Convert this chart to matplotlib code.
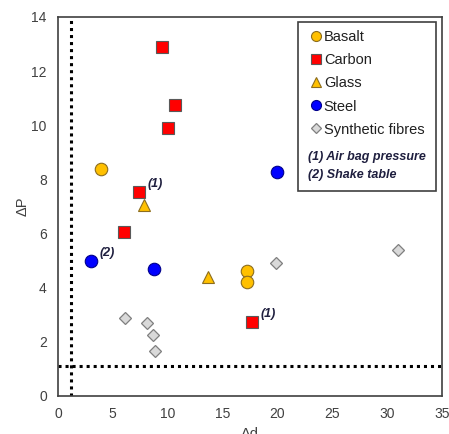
import matplotlib.pyplot as plt
from matplotlib.patches import Rectangle

plt.rcParams['font.family'] = ['Liberation Sans', 'DejaVu Sans']

# data (delta d, delta P)
basalt_x = [3.9, 17.2, 17.2]
basalt_y = [8.4, 4.62, 4.2]
carbon_x = [9.5, 10.7, 10.0, 7.4, 6.0, 17.7]
carbon_y = [12.9, 10.75, 9.9, 7.55, 6.05, 2.75]
glass_x = [7.85, 13.7]
glass_y = [7.05, 4.4]
steel_x = [3.0, 8.8, 20.0]
steel_y = [5.0, 4.7, 8.27]
synth_x = [6.1, 8.1, 8.7, 8.85, 19.9, 31.0]
synth_y = [2.88, 2.69, 2.25, 1.65, 4.9, 5.4]

# notes next to points
note_x = [7.4, 3.0, 17.7]
note_y = [7.55, 5.0, 2.75]
note_txt = ['(1)', '(2)', '(1)']

limit_x = 1.2
limit_y = 1.1

fig = plt.figure(figsize=(4.49, 4.34), dpi=100)
ax = fig.add_axes([0.129, 0.0876, 0.855, 0.8733])

ax.axvline(limit_x, color='black', ls=(0, (1, 1.3)), lw=2.2, zorder=1)
ax.axhline(limit_y, color='black', ls=(0, (1, 1.3)), lw=2.2, zorder=1)

h_b, = ax.plot(basalt_x, basalt_y, 'o', ms=9, mfc='#FFC000', mec='#8C6D1F', mew=0.8, ls='none', label='Basalt')
h_c, = ax.plot(carbon_x, carbon_y, 's', ms=8.5, mfc='#FF0000', mec='#595959', mew=0.8, ls='none', label='Carbon')
h_g, = ax.plot(glass_x, glass_y, '^', ms=9, mfc='#FFC000', mec='#8C6D1F', mew=0.8, ls='none', label='Glass')
h_s, = ax.plot(steel_x, steel_y, 'o', ms=9, mfc='#0000FF', mec='#00008B', mew=0.8, ls='none', label='Steel')
h_f, = ax.plot(synth_x, synth_y, 'D', ms=6.5, mfc='#D9D9D9', mec='#7F7F7F', mew=0.9, ls='none', label='Synthetic fibres')

for x, y, t in zip(note_x, note_y, note_txt):
    ax.annotate(t, (x, y), xytext=(6, 3), textcoords='offset points',
                fontsize=9, fontweight='bold', fontstyle='italic', color='#1F1F3F')

ax.set_xlim(0, 35)
ax.set_ylim(0, 14)
ax.set_xticks(range(0, 36, 5))
ax.set_yticks(range(0, 15, 2))
ax.tick_params(length=0, labelsize=10, labelcolor='#404040', pad=8)
for s in ax.spines.values():
    s.set_color('#404040')
    s.set_linewidth(1.2)
ax.set_xlabel('Δd', fontsize=10.5, color='#404040', labelpad=4)
ax.set_ylabel('ΔP', fontsize=10.5, color='#404040', labelpad=1)

# legend box with notes
ax.add_patch(Rectangle((0.625, 0.541), 0.359, 0.446, transform=ax.transAxes,
                       fc='white', ec='#404040', lw=1.2, zorder=3))
leg = ax.legend(handles=[h_b, h_c, h_g, h_s, h_f], loc='upper left',
                bbox_to_anchor=(0.645, 0.98), frameon=False, fontsize=10.5,
                handlelength=0.6, handletextpad=0.25, labelspacing=0.62,
                borderaxespad=0, markerscale=0.8)
leg.set_zorder(4)
for t in leg.get_texts():
    t.set_color('#202020')
ax.text(0.652, 0.631, '(1) Air bag pressure', transform=ax.transAxes, fontsize=9,
        fontweight='bold', fontstyle='italic', color='#1F1F3F', zorder=5, va='center')
ax.text(0.652, 0.584, '(2) Shake table', transform=ax.transAxes, fontsize=9,
        fontweight='bold', fontstyle='italic', color='#1F1F3F', zorder=5, va='center')

fig.savefig('out.png', dpi=100)
